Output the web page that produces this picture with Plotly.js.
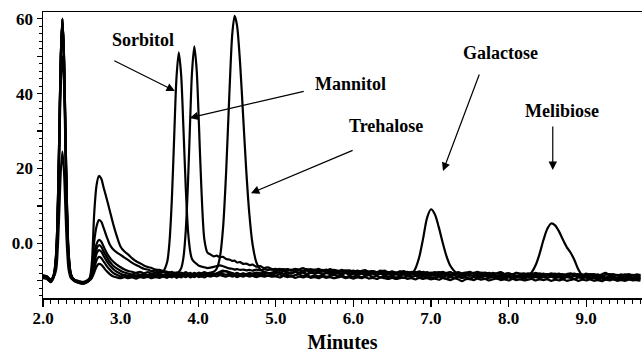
<!DOCTYPE html>
<html>
<head>
<meta charset="utf-8">
<script src="https://cdn.plot.ly/plotly-3.0.1.min.js"></script>
<style>html,body{margin:0;padding:0;background:#fff;}#chart{width:642px;height:355px;}</style>
</head>
<body>
<div id="chart"></div>
<script>
// Retention time grid (minutes)
const timeMin = [
  2.00, 2.05, 2.10, 2.14, 2.17, 2.19, 2.21, 2.23, 2.25, 2.27, 2.29, 2.31, 2.33, 2.36, 2.40, 2.45, 2.50, 2.55, 2.60,
  2.63, 2.66, 2.69, 2.72, 2.75, 2.78, 2.82, 2.86, 2.90, 2.95,
  3.00, 3.05, 3.10, 3.15, 3.20, 3.25, 3.30, 3.35, 3.40, 3.45, 3.50, 3.55,
  3.60, 3.63, 3.66, 3.69, 3.72, 3.75, 3.78, 3.81, 3.84, 3.87, 3.90, 3.92, 3.95, 3.98,
  4.01, 4.04, 4.08, 4.12, 4.16, 4.20, 4.24, 4.28, 4.32, 4.36, 4.40, 4.44, 4.47, 4.50, 4.54, 4.58, 4.62, 4.66, 4.70, 4.75, 4.80, 4.85, 4.90, 4.95,
  5.00, 5.05, 5.10, 5.15, 5.20, 5.25, 5.30, 5.35, 5.40, 5.45,
  5.50, 5.55, 5.60, 5.65, 5.70, 5.75, 5.80, 5.85, 5.90, 5.95,
  6.00, 6.05, 6.10, 6.15, 6.20, 6.25, 6.30, 6.35, 6.40, 6.45,
  6.50, 6.55, 6.60, 6.65, 6.70, 6.75, 6.80, 6.85, 6.90, 6.95,
  7.00, 7.05, 7.10, 7.15, 7.20, 7.25, 7.30, 7.35, 7.40, 7.45,
  7.50, 7.55, 7.60, 7.65, 7.70, 7.75, 7.80, 7.85, 7.90, 7.95,
  8.00, 8.05, 8.10, 8.15, 8.20, 8.25, 8.30, 8.35, 8.40, 8.45,
  8.50, 8.55, 8.60, 8.65, 8.70, 8.75, 8.80, 8.85, 8.90, 8.95,
  9.00, 9.05, 9.10, 9.15, 9.20, 9.25, 9.30, 9.35, 9.40, 9.45,
  9.50, 9.55, 9.60, 9.65, 9.70
];

const sorbitol = [
  -8.8, -9.1, -9.9, -8.2, -2.4, 9.5, 29.5, 50.6, 60.0, 50.6, 29.5, 9.5, -2.4, -8.2, -9.7, -10.1, -10.4, -10.2, -9.5,
  -7.0, 0.5, 4.5, 6.2, 5.8, 4.2, 1.8, -0.3, -1.5, -2.4,
  -3.1, -3.8, -4.5, -5.2, -5.8, -6.3, -6.8, -7.0, -7.4, -7.3, -7.6, -7.4,
  -5.0, 0.3, 11.4, 28.0, 44.1, 51.0, 45.1, 30.7, 14.8, 3.1, -2.5, -4.2, -5.0, -5.5,
  -6.0, -6.2, -6.4, -6.6, -6.5, -6.3, -6.1, -5.9, -6.1, -6.4, -6.7, -6.8, -7.0, -6.9, -7.1, -7.0, -7.2, -7.1, -7.3, -7.0, -7.2, -6.9, -7.1, -7.0,
  -7.2, -6.8, -7.1, -6.9, -7.3, -6.9, -7.0, -6.6, -7.1, -6.9,
  -7.2, -6.8, -7.3, -7.0, -7.4, -7.1, -7.3, -7.6, -7.2, -7.5,
  -7.3, -7.7, -7.4, -7.2, -7.6, -7.4, -7.8, -7.5, -7.3, -7.7,
  -7.6, -7.9, -7.5, -7.8, -7.6, -8.0, -7.7, -7.9, -7.6, -8.1,
  -7.8, -8.0, -7.7, -8.2, -7.9, -7.7, -8.1, -7.8, -8.2, -7.9,
  -7.6, -8.0, -8.2, -7.8, -8.1, -7.9, -8.3, -8.0, -7.7, -8.2,
  -8.0, -8.3, -7.9, -8.1, -8.4, -8.0, -8.2, -7.9, -8.3, -8.1,
  -8.4, -8.0, -8.3, -8.1, -8.5, -8.2, -8.0, -8.4, -8.2, -8.5,
  -8.1, -8.4, -8.2, -8.6, -8.3, -7.9, -8.4, -8.2, -8.6, -8.3,
  -8.5, -8.2, -8.6, -8.3, -8.5
];

const mannitol = [
  -9.2, -9.4, -10.3, -8.9, -3.0, 8.6, 28.6, 50.2, 59.6, 50.4, 28.8, 8.9, -2.8, -8.4, -9.9, -10.3, -10.6, -10.4, -9.6,
  -8.0, -3.0, -0.2, 0.9, 0.5, -0.8, -2.5, -3.8, -4.8, -5.7,
  -6.4, -7.0, -7.4, -7.6, -7.9, -7.6, -8.0, -7.7, -8.1, -7.8, -8.0, -7.7,
  -8.0, -7.7, -8.0, -7.8, -7.9, -7.6, -6.7, -3.8, 3.4, 17.0, 34.9, 45.5, 52.6, 46.5,
  31.6, 15.3, 1.0, -2.5, -3.0, -3.5, -3.3, -3.7, -3.6, -4.2, -4.3, -4.7, -4.6, -5.1, -5.0, -5.5, -5.4, -5.8, -5.7, -6.2, -6.1, -6.6, -6.4, -6.9,
  -6.8, -7.1, -6.9, -7.3, -7.0, -7.4, -7.2, -7.5, -7.3, -7.6,
  -7.3, -7.7, -7.5, -7.4, -7.8, -7.5, -7.7, -7.4, -7.9, -7.6,
  -7.8, -7.5, -8.0, -7.7, -7.9, -8.1, -7.7, -8.0, -7.8, -8.2,
  -7.9, -8.1, -7.8, -8.3, -8.0, -8.2, -7.9, -8.3, -8.1, -8.4,
  -8.1, -8.3, -8.0, -8.4, -8.2, -8.5, -8.1, -8.3, -8.6, -8.2,
  -8.4, -8.7, -8.3, -8.5, -8.2, -8.6, -8.4, -8.7, -8.3, -8.5,
  -8.6, -8.3, -8.7, -8.5, -8.8, -8.4, -8.6, -8.9, -8.5, -8.7,
  -8.5, -8.8, -8.6, -8.9, -8.7, -8.5, -8.9, -8.6, -8.8, -9.0,
  -8.7, -8.9, -8.6, -9.0, -8.8, -9.1, -8.7, -8.9, -9.2, -8.8,
  -9.0, -8.7, -9.1, -8.9, -9.0
];

const trehalose = [
  -9.0, -9.3, -10.1, -8.4, -2.6, 9.2, 29.2, 50.4, 59.9, 50.4, 29.2, 9.2, -2.6, -8.3, -9.8, -10.2, -10.5, -10.3, -9.3,
  -5.0, 8.0, 15.5, 18.0, 17.3, 15.0, 12.0, 8.8, 5.5, 2.0,
  -0.9, -2.2, -3.0, -4.0, -4.8, -5.3, -5.9, -6.3, -6.6, -7.0, -7.1, -7.4,
  -7.6, -7.9, -7.6, -8.0, -7.8, -8.1, -7.8, -8.0, -7.7, -8.1, -7.9, -8.2, -7.9, -8.1,
  -7.8, -8.0, -7.7, -8.0, -7.8, -7.6, -6.7, -3.7, 4.0, 18.9, 39.0, 56.1, 60.8, 58.3, 48.2, 33.8, 19.3, 7.7, -0.1, -5.1, -7.0, -7.6, -7.9, -8.1,
  -8.0, -7.7, -8.2, -7.8, -8.1, -7.6, -8.0, -7.8, -8.3, -7.9,
  -8.1, -7.8, -8.2, -8.0, -7.7, -8.3, -8.0, -8.2, -7.9, -8.4,
  -8.1, -8.3, -8.0, -8.5, -8.2, -7.9, -8.4, -8.1, -8.6, -8.3,
  -8.5, -8.2, -8.6, -8.3, -8.7, -8.4, -8.2, -8.6, -8.4, -8.8,
  -8.5, -8.7, -8.4, -8.9, -8.6, -8.8, -8.5, -8.9, -8.7, -9.0,
  -9.6, -8.8, -8.6, -9.0, -8.7, -9.1, -8.8, -9.2, -8.9, -9.1,
  -8.8, -9.2, -8.9, -9.1, -9.3, -8.9, -9.2, -9.0, -9.3, -9.0,
  -9.2, -8.9, -9.3, -9.1, -9.4, -9.0, -9.2, -9.5, -9.1, -9.3,
  -9.0, -9.4, -9.2, -9.5, -9.1, -9.3, -9.6, -9.2, -9.4, -9.1,
  -9.5, -9.2, -9.4, -9.6, -9.3
];

const galactose = [
  -8.7, -9.0, -9.7, -8.5, -3.9, 7.0, 27.0, 49.7, 60.1, 49.7, 27.0, 7.0, -3.9, -8.6, -9.6, -10.0, -10.3, -10.1, -9.4,
  -8.3, -4.2, -1.5, -0.5, -0.9, -2.1, -3.6, -4.9, -5.9, -6.7,
  -7.3, -7.8, -8.1, -8.3, -8.0, -8.4, -8.2, -8.5, -8.1, -8.4, -8.2, -8.5,
  -8.2, -8.4, -8.1, -8.5, -8.3, -8.0, -8.4, -8.2, -8.5, -8.1, -8.4, -8.2, -8.6, -8.3,
  -8.1, -8.5, -8.2, -8.4, -8.0, -8.3, -8.1, -7.8, -7.6, -7.4, -7.7, -7.9, -8.2, -8.0, -8.3, -8.1, -8.4, -8.2, -8.5, -8.1, -8.4, -8.2, -8.0, -8.3,
  -7.6, -7.9, -7.5, -7.8, -8.0, -7.6, -7.9, -7.7, -8.1, -7.8,
  -8.0, -7.7, -8.1, -7.9, -8.2, -7.8, -8.0, -8.3, -7.9, -8.2,
  -8.0, -8.3, -8.1, -7.8, -8.2, -8.0, -8.4, -8.1, -8.3, -8.0,
  -8.4, -8.2, -8.5, -8.1, -8.3, -8.2, -6.7, -3.6, 1.4, 6.8,
  9.1, 7.8, 4.4, 0.3, -3.4, -6.0, -7.4, -8.3, -8.6, -8.4,
  -8.7, -8.5, -8.8, -8.4, -8.7, -8.9, -8.5, -8.8, -8.6, -8.9,
  -8.7, -9.0, -8.6, -8.9, -8.7, -9.1, -8.8, -8.6, -9.0, -8.8,
  -9.1, -8.7, -9.0, -8.8, -9.2, -8.9, -9.1, -8.7, -9.0, -9.2,
  -8.9, -9.1, -8.8, -9.2, -9.0, -9.3, -8.9, -9.1, -9.3, -9.0,
  -9.2, -8.9, -9.3, -9.1, -9.2
];

const melibiose = [
  -9.3, -9.5, -10.4, -8.8, -3.6, 7.4, 24.6, 43.2, 50.0, 43.2, 24.6, 7.4, -3.6, -8.7, -10.0, -10.4, -10.7, -10.5, -9.7,
  -8.6, -5.5, -2.8, -1.8, -2.2, -3.3, -4.7, -5.9, -6.8, -7.6,
  -8.1, -8.5, -8.7, -8.9, -8.6, -8.9, -8.7, -9.0, -8.6, -8.8, -8.5, -8.8,
  -8.6, -8.9, -8.7, -8.4, -8.8, -8.6, -8.9, -8.5, -8.7, -8.4, -8.8, -8.6, -8.3, -8.7,
  -8.5, -8.8, -8.4, -8.6, -8.3, -8.5, -8.2, -8.0, -8.2, -8.4, -8.1, -8.5, -8.3, -8.6, -8.2, -8.5, -8.3, -8.7, -8.4, -8.6, -8.3, -8.5, -8.7, -8.4,
  -8.6, -8.3, -8.7, -8.4, -8.8, -8.5, -8.3, -8.7, -8.5, -8.9,
  -8.6, -8.8, -8.5, -8.9, -8.7, -8.4, -8.8, -8.6, -9.0, -8.7,
  -8.9, -8.6, -9.0, -8.8, -8.5, -8.9, -8.7, -9.1, -8.8, -9.0,
  -8.7, -9.1, -8.9, -9.2, -8.8, -9.0, -8.7, -9.1, -8.9, -9.2,
  -9.0, -9.3, -8.9, -9.1, -9.4, -9.0, -9.2, -8.9, -9.3, -9.1,
  -9.4, -9.0, -9.3, -9.1, -9.5, -9.2, -9.0, -9.4, -9.2, -9.5,
  -9.1, -9.4, -9.2, -9.0, -9.3, -8.8, -7.7, -5.8, -2.8, 0.9,
  3.9, 5.3, 4.8, 3.2, 1.0, -1.0, -2.5, -4.5, -7.0, -8.6,
  -9.2, -9.5, -9.3, -9.6, -9.4, -9.7, -9.3, -9.5, -9.8, -9.4,
  -9.6, -9.3, -9.7, -9.5, -9.6
];

const blankA = [
  -9.1, -8.9, -10.0, -8.8, -4.3, 6.5, 26.4, 49.1, 59.5, 49.2, 26.4, 6.5, -4.4, -9.0, -9.9, -10.4, -10.6, -10.5, -9.8,
  -9.0, -6.8, -4.5, -3.6, -3.9, -4.8, -6.0, -7.0, -7.8, -8.4,
  -8.8, -8.5, -8.9, -8.6, -8.9, -8.5, -8.8, -8.4, -8.7, -8.5, -8.8, -8.4,
  -8.7, -8.5, -8.8, -8.4, -8.6, -8.3, -8.7, -8.5, -8.2, -8.6, -8.4, -8.7, -8.3, -8.5,
  -8.2, -8.6, -8.4, -8.1, -8.5, -8.2, -8.0, -7.6, -7.3, -7.5, -7.8, -8.0, -8.2, -7.9, -8.3, -8.0, -8.2, -7.9, -8.1, -7.8, -8.0, -7.7, -8.0, -7.8,
  -7.4, -7.0, -7.3, -6.9, -7.2, -6.8, -7.1, -7.3, -6.9, -7.2,
  -7.0, -7.4, -7.1, -7.3, -6.9, -7.3, -7.5, -7.1, -7.4, -7.2,
  -7.6, -7.3, -7.5, -7.2, -7.6, -7.4, -7.7, -7.3, -7.6, -7.8,
  -7.5, -7.8, -7.6, -7.4, -7.9, -7.6, -7.8, -7.5, -7.9, -7.7,
  -8.0, -7.7, -7.9, -7.6, -8.0, -7.8, -8.1, -7.7, -8.0, -7.8,
  -8.1, -7.9, -7.6, -8.0, -7.8, -8.2, -7.9, -8.1, -7.8, -8.2,
  -8.0, -8.3, -7.9, -8.2, -8.0, -8.4, -8.1, -8.3, -8.0, -8.4,
  -8.2, -8.5, -8.1, -8.4, -8.2, -8.6, -8.3, -8.1, -8.5, -8.3,
  -8.6, -8.2, -8.5, -8.3, -8.7, -8.4, -8.2, -8.6, -8.4, -8.7,
  -8.3, -8.6, -8.4, -8.7, -8.5
];

const blankB = [
  -8.5, -8.8, -9.6, -8.9, -7.0, -1.5, 8.5, 19.5, 24.5, 19.5, 8.5, -1.5, -7.0, -9.3, -10.0, -10.5, -10.8, -10.6, -9.9,
  -9.2, -7.8, -6.2, -5.5, -5.7, -6.4, -7.4, -8.2, -8.8, -9.1,
  -9.3, -9.0, -9.3, -9.1, -9.4, -9.0, -9.2, -8.9, -9.3, -9.0, -9.2, -8.9,
  -9.2, -8.9, -9.1, -8.8, -9.2, -8.9, -9.1, -8.8, -9.0, -8.7, -9.1, -8.8, -9.0, -8.7,
  -9.0, -8.8, -9.1, -8.7, -8.9, -8.6, -8.8, -8.5, -8.7, -8.9, -8.6, -8.9, -8.7, -9.0, -8.7, -8.9, -8.6, -8.9, -8.7, -9.0, -8.7, -8.9, -8.6, -8.9,
  -8.8, -9.1, -8.7, -9.0, -8.8, -9.2, -8.9, -9.1, -8.8, -9.2,
  -9.0, -9.3, -8.9, -9.2, -9.0, -9.3, -9.1, -8.9, -9.3, -9.1,
  -9.4, -9.1, -9.3, -9.0, -9.4, -9.2, -9.5, -9.1, -9.3, -9.5,
  -9.2, -9.5, -9.3, -9.1, -9.5, -9.3, -9.6, -9.2, -9.5, -9.3,
  -9.6, -9.4, -9.7, -9.3, -9.5, -9.8, -9.4, -9.6, -10.1, -9.6,
  -9.5, -9.8, -9.4, -9.7, -9.5, -9.9, -9.6, -9.4, -9.8, -9.6,
  -9.9, -9.5, -9.8, -9.6, -9.9, -9.7, -9.5, -9.9, -9.6, -9.8,
  -9.6, -10.0, -9.7, -9.9, -9.6, -10.0, -9.8, -9.6, -10.0, -9.7,
  -9.9, -9.6, -10.0, -9.8, -10.1, -9.7, -9.9, -9.6, -10.0, -9.8,
  -10.0, -9.7, -9.9, -9.8, -10.0
];

const seriesList = [sorbitol, mannitol, trehalose, galactose, melibiose, blankA, blankB];

// Axis ticks
const xTickVals = [2, 3, 4, 5, 6, 7, 8, 9];
const xTickText = ['2.0', '3.0', '4.0', '5.0', '6.0', '7.0', '8.0', '9.0'];
const yTickVals = [-10, 0, 10, 20, 30, 40, 50, 60];
const yTickText = ['', '0.0', '', '20', '', '40', '', '60'];

// Peak labels: text position, arrow tail, arrow head (in data units)
const labelNames = ['Sorbitol', 'Mannitol', 'Trehalose', 'Galactose', 'Melibiose'];
const labelX = [3.29, 5.96, 6.42, 7.90, 8.69];
const labelY = [54.4, 42.6, 31.4, 50.9, 35.4];
const tailX = [2.90, 5.38, 6.01, 7.63, 8.57];
const tailY = [49.0, 40.7, 25.0, 45.5, 31.6];
const headX = [3.70, 3.89, 4.68, 7.155, 8.57];
const headY = [40.7, 33.5, 13.4, 19.3, 19.6];

const serif = 'Liberation Serif';

const traces = seriesList.map(ys => ({
  x: timeMin, y: ys, type: 'scatter', mode: 'lines',
  line: {color: '#000', width: 2.2, shape: 'spline', smoothing: 0.8},
  hoverinfo: 'skip'
}));

const annotations = [];
labelNames.forEach((name, i) => {
  annotations.push({
    x: labelX[i], y: labelY[i], xref: 'x', yref: 'y', text: '<b>' + name + '</b>', showarrow: false,
    font: {family: serif, size: 18, color: '#000'}
  });
  annotations.push({
    x: headX[i], y: headY[i], ax: tailX[i], ay: tailY[i], xref: 'x', yref: 'y', axref: 'x', ayref: 'y',
    text: '', showarrow: true, arrowhead: 2, arrowsize: 1.4, arrowwidth: 1.2, arrowcolor: '#000', standoff: 0
  });
});

const layout = {
  width: 642, height: 355,
  margin: {l: 43, r: 0, t: 12, b: 57},
  paper_bgcolor: '#fff', plot_bgcolor: '#fff',
  showlegend: false,
  xaxis: {
    range: [2.0, 9.72], showgrid: false, zeroline: false,
    showline: true, linecolor: '#000', linewidth: 1.5, mirror: true,
    ticks: 'outside', ticklen: 7, tickwidth: 1.2, tickcolor: '#000',
    ticklabelstandoff: -3,
    tickmode: 'array', tickvals: xTickVals, ticktext: xTickText.map(s => '<b>' + s + '</b>'),
    tickfont: {family: serif, size: 17, color: '#000'},
    minor: {dtick: 0.1, tick0: 2, ticks: 'outside', ticklen: 4, tickwidth: 1, tickcolor: '#000', showgrid: false},
    title: {text: '<b>Minutes</b>', font: {family: serif, size: 20, color: '#000'}, standoff: 8}
  },
  yaxis: {
    range: [-14.6, 61.8], showgrid: false, zeroline: false,
    showline: true, linecolor: '#000', linewidth: 1.5,
    ticks: 'outside', ticklen: 5, tickwidth: 1.2, tickcolor: '#000',
    tickmode: 'array', tickvals: yTickVals, ticktext: yTickText.map(s => s ? '<b>' + s + '</b>' : ''),
    tickfont: {family: serif, size: 17, color: '#000'},
    minor: {dtick: 2, tick0: 0, ticks: 'outside', ticklen: 2.5, tickwidth: 1, tickcolor: '#000', showgrid: false}
  },
  annotations: annotations
};

Plotly.newPlot('chart', traces, layout, {staticPlot: true, displayModeBar: false});
</script>
</body>
</html>
